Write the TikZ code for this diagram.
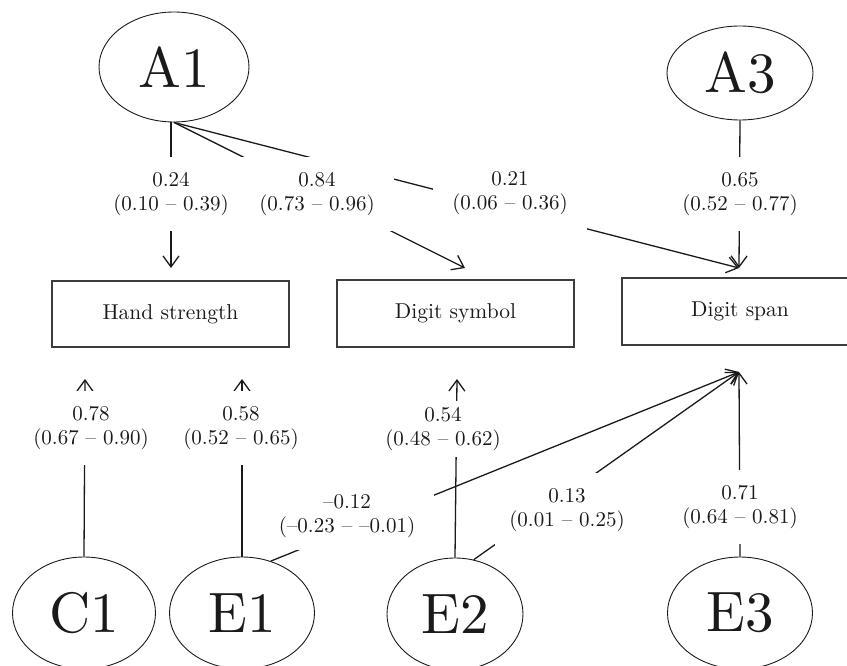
\documentclass[tikz,border=0pt]{standalone}
\usepackage{graphicx}
\usetikzlibrary{shapes.geometric,arrows.meta}
\definecolor{ink}{HTML}{1A1A1A}
\newcommand{\lbl}[2]{\scalebox{2.1}{\renewcommand{\arraystretch}{0.95}\begin{tabular}{@{}c@{}}#1\\#2\end{tabular}}}
\newcommand{\latxt}[1]{\scalebox{5.7}{#1}}
\newcommand{\obtxt}[1]{\scalebox{2.15}{#1}}
\begin{document}
\begin{tikzpicture}[x=1pt,y=-1pt,
  lat/.style={ellipse,draw=ink,line width=0.9pt,inner sep=0pt,text=ink,font=\fontsize{10}{12}\selectfont},
  obs/.style={rectangle,draw=ink!85,line width=1.2pt,inner sep=0pt,text=ink,font=\fontsize{10}{12}\selectfont},
  lab/.style={fill=white,inner xsep=19pt,inner ysep=13pt,text=ink,font=\fontsize{10}{12}\selectfont},
  arr/.style={draw=ink,line width=1.3pt,-{Straight Barb[length=11pt,width=16pt,line width=1.3pt]}}]
\useasboundingbox (0,0) rectangle (847,666);
% latent variables
\node[lat,minimum width=150pt,minimum height=110pt] (A1) at (174,67) {\latxt{A1}};
\node[lat,minimum width=146pt,minimum height=94pt] (A3) at (740,73) {\latxt{A3}};
\node[lat,minimum width=143pt,minimum height=112pt] (C1) at (84,613) {\latxt{C1}};
\node[lat,minimum width=145pt,minimum height=112pt] (E1) at (242,613) {\latxt{E1}};
\node[lat,minimum width=136pt,minimum height=112pt] (E2) at (455,614) {\latxt{E2}};
\node[lat,minimum width=145pt,minimum height=112pt] (E3) at (740,613) {\latxt{E3}};
% observed variables
\node[obs,minimum width=237pt,minimum height=66pt] (HS) at (170.5,314) {\obtxt{Hand strength}};
\node[obs,minimum width=237pt,minimum height=67pt] (DS) at (455.5,313.5) {\obtxt{Digit symbol}};
\node[obs,minimum width=236pt,minimum height=67pt] (DP) at (740,311.5) {\obtxt{Digit span}};
% arrow tips
\coordinate (tHS) at (171,268);
\coordinate (tDS) at (465,268);
\coordinate (tDP) at (739,268);
\coordinate (bHS) at (85,379);
\coordinate (bHS2) at (242,379);
\coordinate (bDS) at (457,379);
\coordinate (bDP) at (739,372);
% connectors
\draw[arr] ([xshift=-3pt]A1.south) -- (tHS);
\draw[arr] (A1.south) -- (tDS);
\draw[arr] (A1.south) -- (tDP);
\draw[arr] (A3.south) -- (tDP);
\draw[arr] (C1.north) -- (bHS);
\draw[arr] (E1.north) -- (bHS2);
\draw[arr] (E2.north) -- (bDS);
\draw[arr] (E3.north) -- (bDP);
\draw[arr] (E1.61) -- (bDP);
\draw[arr] (E2.71) -- (bDP);
% labels
\node[lab] (l1) at (171,194) {\lbl{0.24}{(0.10 \textendash{} 0.39)}};
\node[lab] (l2) at (317,194) {\lbl{0.84}{(0.73 \textendash{} 0.96)}};
\node[lab] (l3) at (510,193) {\lbl{0.21}{(0.06 \textendash{} 0.36)}};
\node[lab] (l4) at (740,194) {\lbl{0.65}{(0.52 \textendash{} 0.77)}};
\node[lab] (l5) at (91,428) {\lbl{0.78}{(0.67 \textendash{} 0.90)}};
\node[lab] (l6) at (241,428) {\lbl{0.58}{(0.52 \textendash{} 0.65)}};
\node[lab,inner xsep=4pt,inner ysep=4pt] (l7) at (443,429) {\lbl{0.54}{(0.48 \textendash{} 0.62)}};
\node[lab,inner ysep=10pt] (l8) at (347,516) {\lbl{\textendash0.12}{(\textendash0.23 \textendash{} \textendash0.01)}};
\node[lab,inner xsep=14pt] (l9) at (567,510) {\lbl{0.13}{(0.01 \textendash{} 0.25)}};
\node[lab] (l10) at (740,507) {\lbl{0.71}{(0.64 \textendash{} 0.81)}};
\end{tikzpicture}
\end{document}
